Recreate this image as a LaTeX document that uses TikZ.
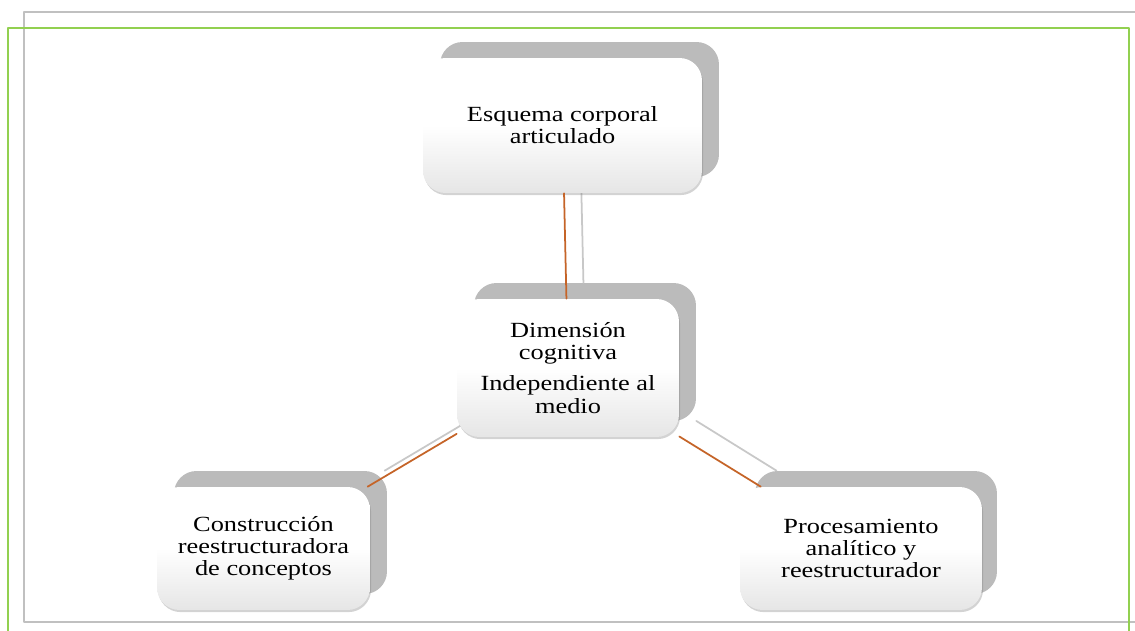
\documentclass[tikz,border=0pt]{standalone}
\usepackage{fontspec}
\setmainfont{Liberation Serif}
\newfontfamily\boxfont[FakeStretch=1.22]{Liberation Serif}
\usetikzlibrary{shadows}
\definecolor{framegreen}{RGB}{146,208,80}
\definecolor{framegray}{RGB}{192,192,192}
\definecolor{backgray}{RGB}{187,187,187}
\definecolor{linkorange}{RGB}{197,100,40}
\definecolor{linkgray}{RGB}{200,200,200}

\begin{document}
\begin{tikzpicture}[line cap=round,line join=round,x=0.02cm,y=-0.02cm,
  backbox/.style={fill=backgray,rounded corners=0.45cm,inner sep=0pt},
  frontbox/.style={top color=white,bottom color=black!10,middle color=white,
    rounded corners=0.45cm,inner sep=0pt,align=center,
    font=\boxfont\fontsize{12.3}{12.6}\selectfont,
    drop shadow={shadow xshift=0.6pt,shadow yshift=-1.2pt,opacity=0.35}},
  orangelink/.style={draw=linkorange,line width=1pt},
  graylink/.style={draw=linkgray,line width=1pt}]
\clip (0,0) rectangle (1135,631);
\useasboundingbox (0,0) rectangle (1135,631);
% page frames
\draw [framegray,line width=1.4pt] (24,12) rectangle (1160,622);
\draw [framegreen,line width=1.4pt] (8,28) rectangle (1129,660);
% grey back boxes
\node [backbox,minimum width=5.58cm,minimum height=2.7cm] (esq-s) at (579.5,109.5) {};
\node [backbox,minimum width=4.44cm,minimum height=2.76cm] (cog-s) at (585,352) {};
\node [backbox,minimum width=4.26cm,minimum height=2.46cm] (con-s) at (280.5,532.5) {};
\node [backbox,minimum width=4.84cm,minimum height=2.46cm] (pro-s) at (876,532.5) {};
\draw [graylink] (cog-s) -- (esq-s);
\draw [graylink] (cog-s) -- (con-s);
\draw [graylink] (cog-s) -- (pro-s);
% front boxes
\node [frontbox,minimum width=5.58cm,minimum height=2.7cm] (esq) at (562.5,125.5) {Esquema corporal\\articulado};
\node [frontbox,minimum width=4.44cm,minimum height=2.76cm] (cog) at (568,368) {Dimensión\\cognitiva\\[5pt]Independiente al\\medio};
\node [frontbox,minimum width=4.26cm,minimum height=2.46cm] (con) at (263.5,548.5) {Construcción\\reestructuradora\\de conceptos};
\node [frontbox,minimum width=4.84cm,minimum height=2.46cm] (pro) at (861,548.5) {Procesamiento\\analítico y\\reestructurador};
\draw [orangelink] (cog) -- (esq);
\draw [orangelink] (cog) -- (con);
\draw [orangelink] (cog) -- (pro);
\end{tikzpicture}
\end{document}
